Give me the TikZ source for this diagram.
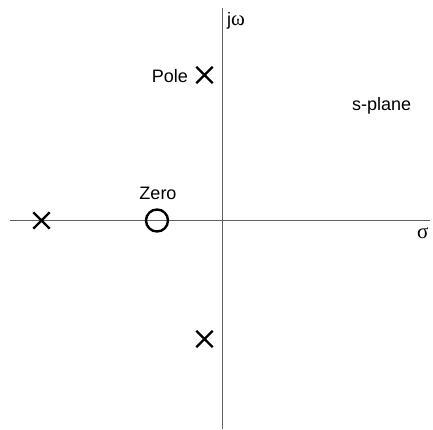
\documentclass[tikz,border=0pt]{standalone}
\usepackage{fontspec}
\setmainfont{Liberation Sans}
\newfontfamily\grk{Liberation Serif}
\usetikzlibrary{shapes.misc}
\begin{document}
\begin{tikzpicture}[x=1pt,y=-1pt,
  font=\fontsize{18}{20}\selectfont,
  axis/.style={draw=black!62, line width=1.7pt},
  polemark/.style={cross out, draw=black, line width=2.4pt, minimum size=14pt, inner sep=0pt},
  zeromark/.style={circle, draw=black, line width=2.4pt, minimum size=22pt, inner sep=0pt},
  lbl/.style={inner sep=0pt},
  greek/.style={font=\fontsize{21}{22}\selectfont\grk}]
\useasboundingbox (0,0) rectangle (433,429);
% axes
\coordinate (yt) at (222.5,8);
\coordinate (yb) at (222.5,429);
\coordinate (xl) at (10,220.5);
\coordinate (xr) at (430,220.5);
\draw[axis] (xl) -- (xr);
\draw[axis] (yt) -- (yb);
% poles and zero
\node[polemark] (p1) at (204.5,75) {};
\node[polemark] (p2) at (204.5,339) {};
\node[polemark] (p3) at (41.5,220.5) {};
\node[zeromark] (z1) at (157,220.5) {};
% labels
\node[lbl, anchor=base east] (pl) at (188,82) {Pole};
\node[lbl, anchor=base] (zl) at (158,199) {Zero};
\node[lbl, anchor=base west] (jw) at (227,25) {j{\fontsize{21}{22}\selectfont\grk ω}};
\node[lbl, anchor=base west] (sp) at (352,110) {s-plane};
\node[lbl, greek, anchor=base west] (sg) at (417,238) {σ};
\end{tikzpicture}
\end{document}
